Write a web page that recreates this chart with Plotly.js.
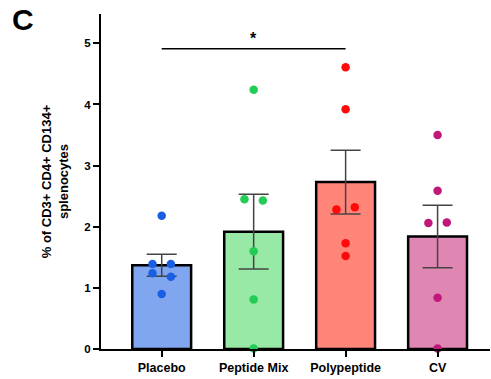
<!DOCTYPE html>
<html>
<head>
<meta charset="utf-8">
<script src="https://cdn.plot.ly/plotly-3.0.1.min.js"></script>
<style>html,body{margin:0;padding:0;background:#fff;}#chart{width:491px;height:379px;}</style>
</head>
<body>
<div id="chart"></div>
<script>
// ---- data ----
const categories = ["Placebo", "Peptide Mix", "Polypeptide", "CV"];
const means = [1.37, 1.92, 2.73, 1.84];
const sem = [0.18, 0.61, 0.52, 0.51];
const placeboPts = [2.18, 1.39, 1.39, 1.24, 1.18, 0.90];
const peptideMixPts = [4.24, 2.45, 2.43, 1.60, 0.81, 0.01];
const polypeptidePts = [4.61, 3.92, 2.28, 2.32, 1.73, 1.52];
const cvPts = [3.50, 2.59, 2.06, 2.07, 0.84, 0.01];
const placeboJit = [0, -1, 1, -1, 1, 0];
const peptideMixJit = [0, -1, 1, 0, 0, 0];
const polypeptideJit = [0, 0, -1, 1, 0, 0];
const cvJit = [0, 0, -1, 1, 0, 0];
const sigPair = [0, 2];
const sigY = 4.91;
const sigLabel = "*";
const yTicks = [0, 1, 2, 3, 4, 5];

// ---- styles ----
const barFill = ["#7fa6ee", "#98e8a6", "#ff8578", "#e086b3"];
const dotColor = ["#1a5fe3", "#22cc55", "#ff0a0a", "#c0177a"];
const jitStep = 0.1;
const font = "Arial, 'Liberation Sans', sans-serif";

const idx = categories.map((c, i) => i);
const traces = [];
traces.push({
  type: "bar", x: idx, y: means, width: 0.64,
  marker: {color: barFill, line: {color: "#000", width: 2.5}},
  error_y: {type: "data", array: sem, visible: true, color: "#444", thickness: 1.5, width: 15},
  hoverinfo: "none", showlegend: false
});
const pts = [placeboPts, peptideMixPts, polypeptidePts, cvPts];
const jits = [placeboJit, peptideMixJit, polypeptideJit, cvJit];
pts.forEach((arr, i) => {
  traces.push({
    type: "scatter", mode: "markers",
    x: arr.map((v, k) => i + jits[i][k] * jitStep), y: arr,
    marker: {color: dotColor[i], size: 8.5},
    cliponaxis: false, showlegend: false, hoverinfo: "none"
  });
});
traces.push({
  type: "scatter", mode: "lines",
  x: sigPair, y: [sigY, sigY],
  line: {color: "#000", width: 1.5}, showlegend: false, hoverinfo: "none"
});

const layout = {
  width: 491, height: 379,
  margin: {l: 101, r: 1, t: 14, b: 30},
  paper_bgcolor: "#fff", plot_bgcolor: "#fff",
  font: {family: font, color: "#000"},
  bargap: 0,
  xaxis: {
    range: [-0.66, 3.57], tickvals: idx, ticktext: categories,
    showline: true, linecolor: "#000", linewidth: 2,
    ticks: "outside", ticklen: 6, tickwidth: 2, tickcolor: "#000",
    showgrid: false, zeroline: false,
    tickfont: {family: font, size: 12.5, weight: "bold"}
  },
  yaxis: {
    range: [0, 5.48], tickvals: yTicks,
    showline: true, linecolor: "#000", linewidth: 2,
    ticks: "outside", ticklen: 6, tickwidth: 2, tickcolor: "#000",
    showgrid: false, zeroline: false,
    tickfont: {family: font, size: 11.5, weight: "bold"},
    title: {text: "% of CD3+ CD4+ CD134+<br>splenocytes", standoff: 13,
            font: {family: font, size: 13, weight: "bold"}}
  },
  annotations: [
    {xref: "x", yref: "y", x: (sigPair[0] + sigPair[1]) / 2, y: sigY, text: sigLabel,
     showarrow: false, yanchor: "bottom", yshift: 0,
     font: {family: font, size: 16, weight: "bold"}},
    {xref: "paper", yref: "paper", x: -0.235, y: 1.04, xanchor: "left", yanchor: "top",
     text: "C", showarrow: false, font: {family: font, size: 30, weight: "bold"}}
  ]
};
Plotly.newPlot("chart", traces, layout, {displayModeBar: false, staticPlot: true});
</script>
</body>
</html>
